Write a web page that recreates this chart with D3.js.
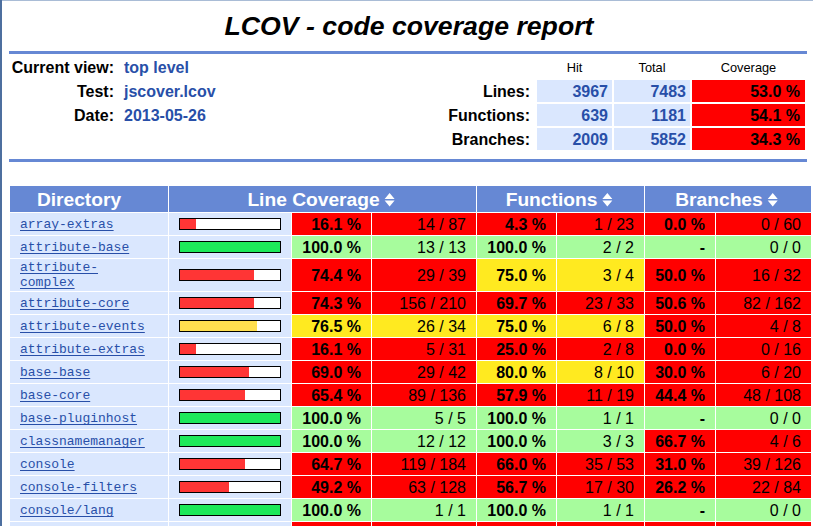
<!DOCTYPE html>
<html><head><meta charset="utf-8">
<script src="https://cdn.jsdelivr.net/npm/d3@7"></script>
<style>
html,body{margin:0;padding:0;background:#fff;overflow:hidden}
svg{display:block}
</style></head><body>
<svg id="c" width="813" height="526"></svg>
<script>
// ---------- data ----------
const title = "LCOV - code coverage report";
const infoLabels = ["Current view:", "Test:", "Date:"];
const infoValues = ["top level", "jscover.lcov", "2013-05-26"];
const summaryHeads = ["Hit", "Total", "Coverage"];
const summaryRows = ["Lines:", "Functions:", "Branches:"];
const summaryHit = [3967, 639, 2009];
const summaryTotal = [7483, 1181, 5852];
const summaryPct = [53.0, 54.1, 34.3];
const headGroups = ["Directory", "Line Coverage", "Functions", "Branches"];

// last row is cut off by the window edge (only its red/blue cell tops are visible)
const dirs = ["array-extras", "attribute-base", "attribute-complex", "attribute-core",
  "attribute-events", "attribute-extras", "base-base", "base-core", "base-pluginhost",
  "classnamemanager", "console", "console-filters", "console/lang", "cookie"];
const linePct   = [16.1, 100.0, 74.4, 74.3, 76.5, 16.1, 69.0, 65.4, 100.0, 100.0, 64.7, 49.2, 100.0, 55.0];
const lineHit   = [14, 13, 29, 156, 26, 5, 29, 89, 5, 12, 119, 63, 1, 44];
const lineTotal = [87, 13, 39, 210, 34, 31, 42, 136, 5, 12, 184, 128, 1, 80];
const funcPct   = [4.3, 100.0, 75.0, 69.7, 75.0, 25.0, 80.0, 57.9, 100.0, 100.0, 66.0, 56.7, 100.0, 50.0];
const funcHit   = [1, 2, 3, 23, 6, 2, 8, 11, 1, 3, 35, 17, 1, 6];
const funcTotal = [23, 2, 4, 33, 8, 8, 10, 19, 1, 3, 53, 30, 1, 12];
const branchPct   = [0.0, null, 50.0, 50.6, 50.0, 0.0, 30.0, 44.4, null, 66.7, 31.0, 26.2, null, 30.0];
const branchHit   = [0, 0, 16, 82, 4, 0, 6, 48, 0, 4, 39, 22, 0, 12];
const branchTotal = [60, 0, 32, 162, 8, 16, 20, 108, 0, 6, 126, 84, 0, 40];

// ---------- style ----------
const W = 813, H = 526;
const SANS = "'Liberation Sans', Arial, Helvetica, sans-serif";
const MONO = "'Liberation Mono', 'Courier New', monospace";
const BLUE = "#284fa8", HEADBG = "#6688d4", LIGHT = "#dae7fe";
const rating = d3.scaleThreshold().domain([75, 90]).range(["#ff0000", "#ffea20", "#a7fc9d"]);
const barColor = d3.scaleThreshold().domain([75, 90]).range(["#ff3535", "#ffdf4f", "#1de95a"]);
const barScale = d3.scaleLinear().domain([0, 100]).range([0, 100]);

const svg = d3.select("#c");
svg.append("rect").attr("width", W).attr("height", H).attr("fill", "#fff");

// ---------- title & rulers ----------
svg.append("text").attr("x", 409).attr("y", 35).attr("text-anchor", "middle")
  .style("font", `italic bold 26.67px ${SANS}`).attr("fill", "#000").text(title);
svg.selectAll("rect.ruler").data([51, 159]).join("rect").attr("class", "ruler")
  .attr("x", 9).attr("y", d => d).attr("width", 798).attr("height", 3).attr("fill", HEADBG);

// ---------- info block ----------
const infoY = d3.scaleOrdinal().domain(infoLabels).range([73, 97, 121]);
svg.selectAll("text.il").data(infoLabels).join("text").attr("class", "il")
  .attr("x", 114).attr("y", d => infoY(d)).attr("text-anchor", "end")
  .style("font", `bold 16px ${SANS}`).attr("fill", "#000").text(d => d);
svg.selectAll("text.iv").data(infoValues).join("text").attr("class", "iv")
  .attr("x", 124).attr("y", (d, i) => infoY(infoLabels[i]))
  .style("font", `bold 16px ${SANS}`).attr("fill", BLUE).text(d => d);

// ---------- summary table ----------
const sumColX = d3.scaleOrdinal().domain(summaryHeads).range([537, 614, 692]);
const sumColW = d3.scaleOrdinal().domain(summaryHeads).range([75, 76, 113]);
const sumRowY = d3.scaleOrdinal().domain(summaryRows).range([80, 104, 128]);
svg.selectAll("text.sh").data(summaryHeads).join("text").attr("class", "sh")
  .attr("x", d => sumColX(d) + sumColW(d) / 2).attr("y", 72).attr("text-anchor", "middle")
  .style("font", `12.8px ${SANS}`).attr("fill", "#000").text(d => d);
svg.selectAll("text.sr").data(summaryRows).join("text").attr("class", "sr")
  .attr("x", 530).attr("y", d => sumRowY(d) + 17).attr("text-anchor", "end")
  .style("font", `bold 16px ${SANS}`).attr("fill", "#000").text(d => d);
const sumCells = [];
summaryRows.forEach((r, i) => {
  sumCells.push({ r, c: "Hit", txt: String(summaryHit[i]), bg: LIGHT, fg: BLUE, pad: 4 });
  sumCells.push({ r, c: "Total", txt: String(summaryTotal[i]), bg: LIGHT, fg: BLUE, pad: 4 });
  sumCells.push({ r, c: "Coverage", txt: summaryPct[i].toFixed(1) + " %", bg: rating(summaryPct[i]), fg: "#000", pad: 5 });
});
const sg = svg.selectAll("g.sc").data(sumCells).join("g").attr("class", "sc");
sg.append("rect").attr("x", d => sumColX(d.c)).attr("y", d => sumRowY(d.r))
  .attr("width", d => sumColW(d.c)).attr("height", 22).attr("fill", d => d.bg);
sg.append("text").attr("x", d => sumColX(d.c) + sumColW(d.c) - d.pad).attr("y", d => sumRowY(d.r) + 17)
  .attr("text-anchor", "end").style("font", `bold 16px ${SANS}`).attr("fill", d => d.fg).text(d => d.txt);

// ---------- main table ----------
const cols = ["dir", "bar", "lp", "lc", "fp", "fc", "bp", "bc"];
const colX = d3.scaleOrdinal().domain(cols).range([10, 169, 292, 372, 477, 557, 645, 716]);
const colW = d3.scaleOrdinal().domain(cols).range([158, 122, 79, 104, 79, 87, 70, 95]);

// header
const groupSpan = { "Directory": ["dir", "dir"], "Line Coverage": ["bar", "lc"], "Functions": ["fp", "fc"], "Branches": ["bp", "bc"] };
const hg = svg.selectAll("g.hg").data(headGroups).join("g").attr("class", "hg");
hg.append("rect")
  .attr("x", d => colX(groupSpan[d][0]))
  .attr("y", 186).attr("height", 26)
  .attr("width", d => colX(groupSpan[d][1]) + colW(groupSpan[d][1]) - colX(groupSpan[d][0]))
  .attr("fill", HEADBG);
hg.each(function (d, i) {
  const g = d3.select(this);
  const x0 = colX(groupSpan[d][0]), x1 = colX(groupSpan[d][1]) + colW(groupSpan[d][1]);
  const t = g.append("text").attr("y", 206).style("font", `bold 19.2px ${SANS}`).attr("fill", "#fff").text(d);
  const tw = t.node().getComputedTextLength();
  if (i === 0) {
    t.attr("x", 79 - tw / 2);
  } else {
    const w = tw + 5 + 10;
    const sx = (x0 + x1) / 2 - 1.5 - w / 2;
    t.attr("x", sx);
    const ax = sx + tw + 5;
    g.append("path").attr("fill", "#fff")
      .attr("d", `M${ax},199 L${ax + 5},193 L${ax + 10},199 Z M${ax},200.5 L${ax + 10},200.5 L${ax + 5},206.5 Z`);
  }
});

// rows: compute wrapping of directory names
const meas = svg.append("text").style("font", `13px ${MONO}`);
const rows = dirs.map((name, i) => {
  meas.text(name);
  let lines = [name];
  if (meas.node().getComputedTextLength() > 128) {
    const k = name.lastIndexOf("-");
    lines = [name.slice(0, k + 1), name.slice(k + 1)];
  }
  return { i, name, lines };
});
meas.remove();
let yy = 213;
rows.forEach(r => { r.h = r.lines.length > 1 ? 32 : 22; r.y = yy; yy += r.h + 1; });

const rg = svg.selectAll("g.row").data(rows).join("g").attr("class", "row");
rg.each(function (r) {
  const g = d3.select(this);
  const i = r.i;
  const mid = r.y + r.h / 2;
  const base = mid + 5.5;
  const visible = r.y + r.h <= H;   // row contents below the window edge are not shown
  const bp = branchPct[i];
  const cells = [
    { c: "dir", bg: LIGHT },
    { c: "bar", bg: LIGHT },
    { c: "lp", bg: rating(linePct[i]), txt: linePct[i].toFixed(1) + " %", bold: true },
    { c: "lc", bg: rating(linePct[i]), txt: lineHit[i] + " / " + lineTotal[i] },
    { c: "fp", bg: rating(funcPct[i]), txt: funcPct[i].toFixed(1) + " %", bold: true },
    { c: "fc", bg: rating(funcPct[i]), txt: funcHit[i] + " / " + funcTotal[i] },
    { c: "bp", bg: bp === null ? rating(100) : rating(bp), txt: bp === null ? "-" : bp.toFixed(1) + " %", bold: true },
    { c: "bc", bg: bp === null ? rating(100) : rating(bp), txt: branchHit[i] + " / " + branchTotal[i] }
  ];
  g.selectAll("rect.cell").data(cells).join("rect").attr("class", "cell")
    .attr("x", d => colX(d.c)).attr("y", r.y).attr("width", d => colW(d.c)).attr("height", r.h)
    .attr("fill", d => d.bg);
  if (!visible) return;
  g.selectAll("text.v").data(cells.filter(d => d.txt)).join("text").attr("class", "v")
    .attr("x", d => colX(d.c) + colW(d.c) - 10).attr("y", base).attr("text-anchor", "end")
    .style("font", d => `${d.bold ? "bold " : ""}16px ${SANS}`).attr("fill", "#000").text(d => d.txt);
  // coverage bar
  const bx = colX("bar") + 10, by = mid - 6;
  g.append("rect").attr("x", bx).attr("y", by).attr("width", barScale(100) + 2).attr("height", 12).attr("fill", "#000");
  g.append("rect").attr("x", bx + 1).attr("y", by + 1).attr("width", barScale(100)).attr("height", 10).attr("fill", "#fff");
  g.append("rect").attr("x", bx + 1).attr("y", by + 1).attr("width", barScale(Math.round(linePct[i]))).attr("height", 10)
    .attr("fill", barColor(linePct[i]));
  // directory name (underlined link)
  const n = r.lines.length;
  r.lines.forEach((ln, k) => {
    const ty = n > 1 ? r.y + 12 + k * 15 : base - 1.5;
    const t = g.append("text").attr("x", colX("dir") + 10).attr("y", ty)
      .style("font", `13px ${MONO}`).attr("fill", BLUE).text(ln);
    const tw = t.node().getComputedTextLength();
    g.append("rect").attr("x", colX("dir") + 10).attr("y", ty + 2).attr("width", tw).attr("height", 1).attr("fill", BLUE);
  });
});

// ---------- frame edges ----------
svg.append("rect").attr("x", 0).attr("y", 0).attr("width", W).attr("height", 1).attr("fill", "#a9bcd6");
svg.append("rect").attr("x", 0).attr("y", 0).attr("width", 2).attr("height", H).attr("fill", "#4d6f9f");
</script>
</body></html>
